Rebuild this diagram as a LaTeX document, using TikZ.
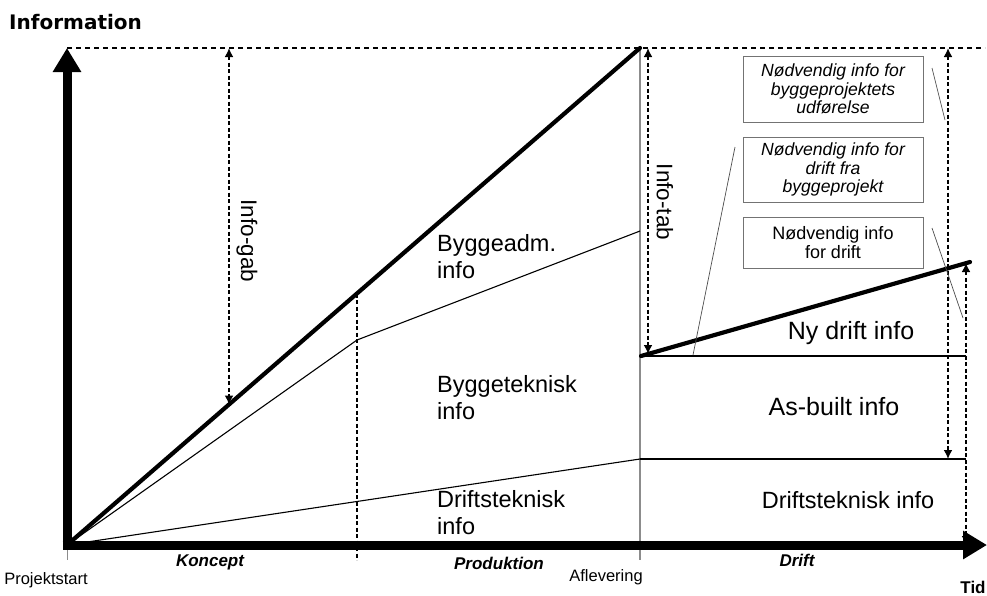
\documentclass[tikz,border=0pt]{standalone}
\usepackage{fontspec}
\setmainfont{Liberation Sans}
\newfontfamily\headfont{DejaVu Sans}
\usetikzlibrary{arrows.meta}
\begin{document}
\begin{tikzpicture}[x=1pt,y=-1pt,
  axisline/.style={line width=9pt,-{Triangle[length=24pt,width=27pt]}},
  mainline/.style={line width=4.2pt,line cap=round},
  thinline/.style={line width=1.1pt},
  bandline/.style={line width=2pt},
  greyline/.style={line width=1.4pt,draw=black!45},
  leader/.style={line width=0.7pt,draw=black!70},
  topdash/.style={line width=1.3pt,dash pattern=on 5pt off 4pt},
  gapdash/.style={line width=2.3pt,dash pattern=on 4pt off 2.5pt},
  gaparrow/.style={gapdash,{Latex[length=9pt,width=9pt]}-{Latex[length=9pt,width=9pt]}},
  bigtxt/.style={font=\fontsize{23.5}{27}\selectfont,align=left,inner sep=0pt},
  bandtxt/.style={font=\fontsize{25}{27}\selectfont,inner sep=0pt},
  gaptxt/.style={font=\fontsize{22.5}{26}\selectfont,inner sep=0pt,rotate=-90},
  infobox/.style={draw=black!55,line width=1pt,minimum width=180pt,align=center,inner sep=0pt,
    font=\fontsize{18}{18.5}\selectfont},
  needtxt/.style={font=\fontsize{17.6}{18.5}\selectfont\itshape},
  phase/.style={font=\fontsize{17}{19}\selectfont\bfseries\itshape,inner sep=0pt},
  milestone/.style={font=\fontsize{16.5}{18}\selectfont,inner sep=0pt},
]
\useasboundingbox (0,0) rectangle (987,595);

% key points of the chart
\coordinate (O) at (67,545);
\coordinate (Ytop) at (67,48);
\coordinate (Xend) at (987,545);
\coordinate (Peak) at (640,48);
\coordinate (TopEnd) at (985,48);
\coordinate (Kcut) at (357,293.5);
\coordinate (Kink) at (357,340);
\coordinate (Kfoot) at (357,560);
\coordinate (Ba) at (640,231);
\coordinate (Dr) at (640,459);
\coordinate (Afoot) at (640,560);
\coordinate (Ofoot) at (67,560);
\coordinate (Nd0) at (641,356);
\coordinate (Nd1) at (970,262);
\coordinate (Ab1) at (966,356);
\coordinate (Dt1) at (966,459);

% phase boundaries and ticks
\draw[greyline] (Peak) -- (Afoot);
\draw[greyline,line width=1pt] (O) -- (Ofoot);
\draw[gapdash,line width=1.8pt] (Kcut) -- (Kfoot);

% top reference line
\draw[topdash] (Ytop) -- (TopEnd);

% information curves
\draw[thinline] (O) -- (Kink) -- (Ba);
\draw[thinline] (O) -- (Dr);
\draw[mainline] (O) -- (Peak);

% operation bands
\draw[bandline] (Nd0) -- (Ab1);
\draw[bandline] (Dr) -- (Dt1);
\draw[mainline] (Nd0) -- (Nd1);

% gap arrows
\coordinate (G0) at (229,48);
\coordinate (G1) at (229,404.5);
\draw[gaparrow] (G0) -- (G1);
\coordinate (T0) at (648,48);
\coordinate (T1) at (648,354);
\draw[gaparrow] (T0) -- (T1);
\coordinate (R0) at (948,48);
\coordinate (R1) at (948,459);
\draw[gaparrow] (R0) -- (R1);
\coordinate (S0) at (966,263);
\coordinate (S1) at (966,545);
\draw[gaparrow] (S0) -- (S1);

% axes
\draw[axisline] (67,549.5) -- (Ytop);
\draw[axisline] (62.5,545) -- (Xend);

% labels
\node[font=\headfont\bfseries\fontsize{20}{22}\selectfont,anchor=west,inner sep=0pt] (info) at (9,22) {Information};
\node[gaptxt] (gab) at (247,241) {Info-gab};
\node[gaptxt] (tab) at (665,202) {Info-tab};
\node[bigtxt,anchor=west] (badm) at (437,257) {Byggeadm.\\info};
\node[bigtxt,anchor=west] (btek) at (437,398) {Byggeteknisk\\info};
\node[bigtxt,anchor=west] (dtek) at (437,513) {Driftsteknisk\\info};
\node[bandtxt] (ny) at (851,333) {Ny drift info};
\node[bandtxt] (asb) at (834,407) {As-built info};
\node[bigtxt] (dtek2) at (848,500) {Driftsteknisk info};

% information needs
\node[infobox,minimum height=66pt,needtxt] (n1) at (833,89)
  {Nødvendig info for\\byggeprojektets\\udførelse};
\node[infobox,minimum height=65pt,needtxt] (n2) at (833,169.5)
  {Nødvendig info for\\drift fra\\byggeprojekt};
\node[infobox,minimum height=51pt] (n3) at (833,242.5)
  {Nødvendig info\\for drift};

% leaders from the boxes
\coordinate (L1a) at (932,68);
\coordinate (L1b) at (945,120);
\draw[leader] (L1a) -- (L1b);
\coordinate (L2a) at (735,147);
\coordinate (L2b) at (693,355);
\draw[leader] (L2a) -- (L2b);
\coordinate (L3a) at (932,228);
\coordinate (L3b) at (963,318);
\draw[leader] (L3a) -- (L3b);

% time axis labels
\node[phase] (kon) at (210,562) {Koncept};
\node[phase] (pro) at (499,563) {Produktion};
\node[phase] (dri) at (797,560) {Drift};
\node[milestone] (pst) at (46,580) {Projektstart};
\node[milestone] (afl) at (606,577) {Aflevering};
\node[font=\fontsize{17}{19}\selectfont\bfseries,inner sep=0pt] (tid) at (973,587) {Tid};
\end{tikzpicture}
\end{document}
